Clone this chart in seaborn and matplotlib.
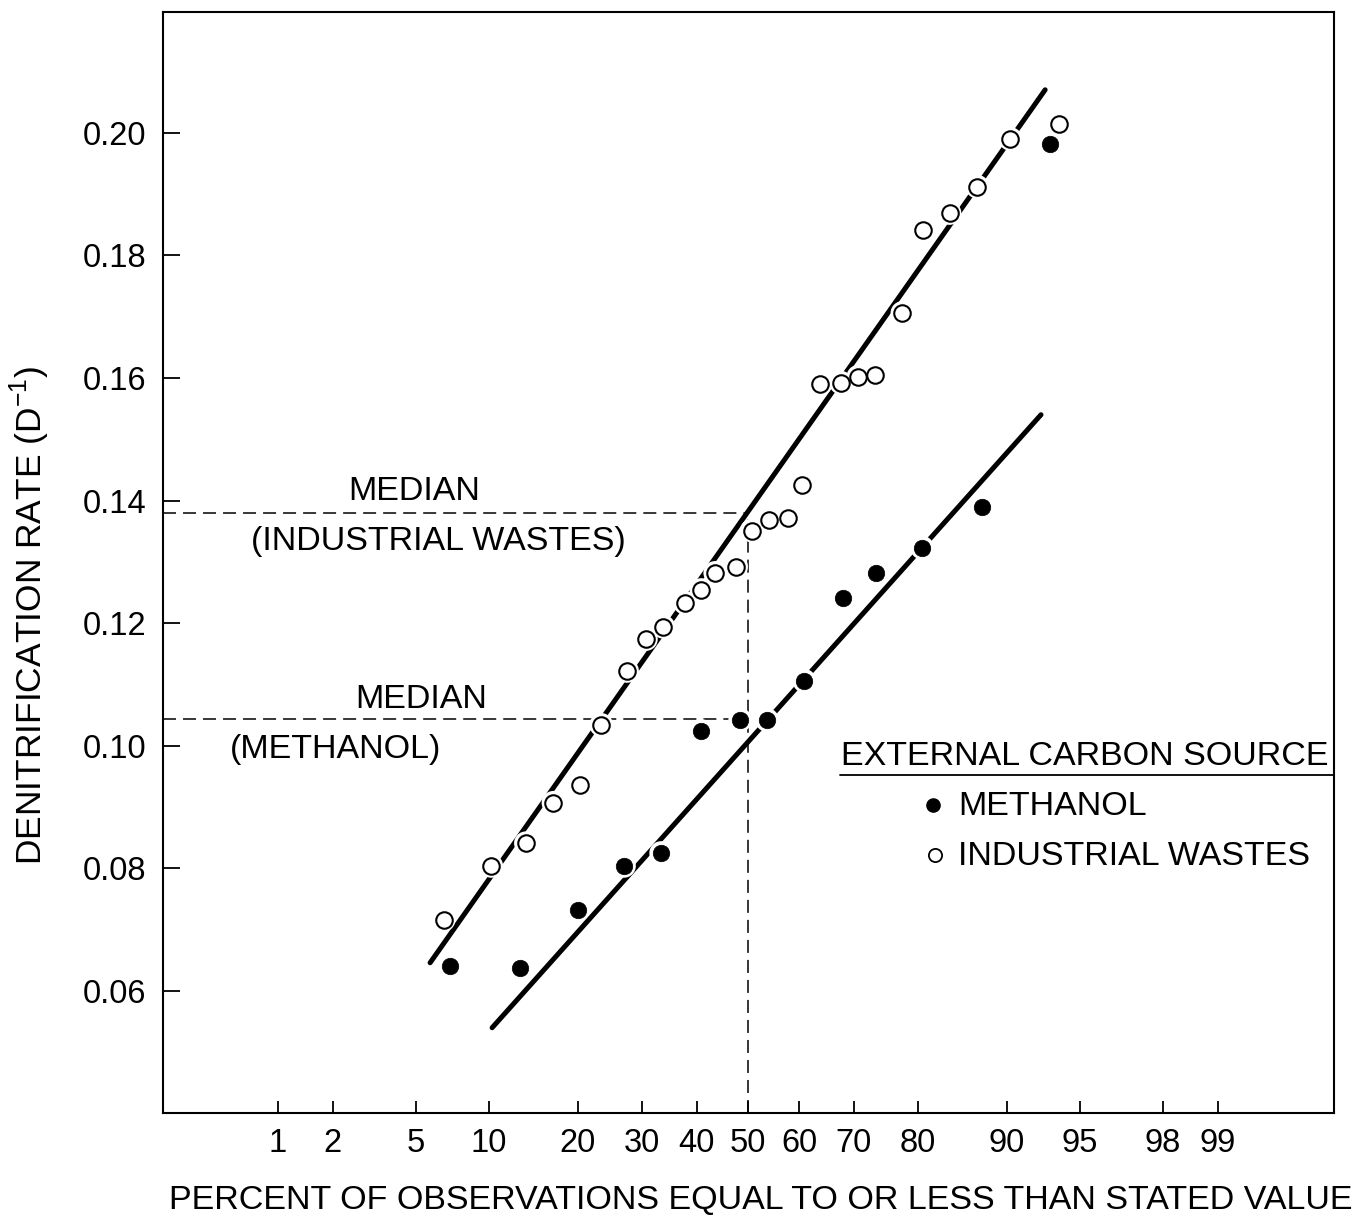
import numpy as np
import pandas as pd
import matplotlib
matplotlib.use("Agg")
import matplotlib.pyplot as plt
import seaborn as sns
from statistics import NormalDist

# ---------------- data ----------------
iw_pct = [6.6, 10.2, 13.6, 16.8, 20.3, 23.4, 27.5, 30.7, 33.8, 37.8, 40.9, 43.6, 47.7,
          50.8, 54.2, 57.9, 60.6, 64.0, 67.8, 70.8, 73.6, 77.8, 80.7, 84.1, 87.2, 90.3, 93.8]
iw_rate = [0.0716, 0.0804, 0.0841, 0.0907, 0.0936, 0.1034, 0.1122, 0.1174, 0.1194, 0.1233,
           0.1254, 0.1282, 0.1292, 0.1351, 0.1369, 0.1372, 0.1426, 0.1590, 0.1592, 0.1602,
           0.1605, 0.1706, 0.1842, 0.1869, 0.1912, 0.1990, 0.2015]
me_pct = [7.0, 13.0, 20.0, 27.0, 33.4, 40.9, 48.5, 53.8, 61.0, 68.1, 73.7, 80.6, 87.7, 93.3]
me_rate = [0.0641, 0.0638, 0.0732, 0.0804, 0.0825, 0.1024, 0.1042, 0.1042, 0.1106, 0.1241,
           0.1282, 0.1323, 0.1390, 0.1982]

iw_fit_pct = [5.79, 92.95]
iw_fit_rate = [0.0646, 0.2070]
me_fit_pct = [10.28, 92.67]
me_fit_rate = [0.0540, 0.1540]

iw_median = 0.138
me_median = 0.1044
median_pct = 50

x_ticks = [1, 2, 5, 10, 20, 30, 40, 50, 60, 70, 80, 90, 95, 98, 99]
x_ticklabels = ["1", "2", "5", "10", "20", "30", "40", "50", "60", "70", "80", "90", "95", "98", "99"]
y_ticks = [0.06, 0.08, 0.10, 0.12, 0.14, 0.16, 0.18, 0.20]
y_ticklabels = ["0.06", "0.08", "0.10", "0.12", "0.14", "0.16", "0.18", "0.20"]

# ---------------- probability scale ----------------
_nd = NormalDist()
_vinv = np.vectorize(_nd.inv_cdf, otypes=[float])
_vcdf = np.vectorize(_nd.cdf, otypes=[float])


def _fwd(p):
    p = np.asarray(p, dtype=float)
    if p.size == 0:
        return p
    q = np.clip(p / 100.0, 1e-9, 1 - 1e-9)
    return _vinv(q)


def _inv(z):
    z = np.asarray(z, dtype=float)
    if z.size == 0:
        return z
    return _vcdf(z) * 100.0


sns.set_theme(style="ticks")
plt.rcParams["font.family"] = ["Liberation Sans", "DejaVu Sans"]
plt.rcParams["mathtext.fontset"] = "custom"
plt.rcParams["mathtext.rm"] = "Liberation Sans"

fig = plt.figure(figsize=(13.64, 12.19), dpi=100)
ax = fig.add_axes([0.1195, 0.0870, 0.8585, 0.9032])
ax.set_xscale("function", functions=(_fwd, _inv))
xlo, xhi = float(_inv(-2.895)), float(_inv(2.902))
ylo, yhi = 0.0401, 0.2197
ax.set_xlim(xlo, xhi)
ax.set_ylim(ylo, yhi)

# median reference lines
dash = (8.5, 4.6)
ax.plot([xlo, median_pct], [iw_median, iw_median], color="black", lw=1.1, dashes=dash, zorder=1)
ax.plot([xlo, median_pct], [me_median, me_median], color="black", lw=1.1, dashes=dash, zorder=1)
ax.plot([median_pct, median_pct], [ylo, iw_median], color="black", lw=1.1, dashes=dash, zorder=1)

# fitted lines
sns.lineplot(x=iw_fit_pct, y=iw_fit_rate, ax=ax, color="black", lw=3.6, zorder=2,
             solid_capstyle="round")
sns.lineplot(x=me_fit_pct, y=me_fit_rate, ax=ax, color="black", lw=3.6, zorder=2,
             solid_capstyle="round")

# white halos to break lines near points
sns.scatterplot(x=iw_pct + me_pct, y=iw_rate + me_rate, ax=ax, s=290, color="white",
                edgecolor="none", zorder=3, legend=False)

# points
sns.scatterplot(x=me_pct, y=me_rate, ax=ax, s=141, color="black", edgecolor="black",
                linewidth=0.5, zorder=4, legend=False)
sns.scatterplot(x=iw_pct, y=iw_rate, ax=ax, s=141, facecolor="white", edgecolor="black",
                linewidth=1.5, zorder=4, legend=False)

# ticks
ax.set_xticks(x_ticks)
ax.set_xticklabels(x_ticklabels)
ax.set_yticks(y_ticks)
ax.set_yticklabels(y_ticklabels)
ax.minorticks_off()
ax.tick_params(axis="x", direction="in", length=9, width=1.3, pad=11, labelsize=23.5,
               colors="black")
ax.tick_params(axis="y", direction="in", length=12, width=1.3, pad=12, labelsize=23.5,
               colors="black")
for sp in ax.spines.values():
    sp.set_linewidth(1.5)
    sp.set_color("black")

# axis labels
ax.set_xlabel("PERCENT OF OBSERVATIONS EQUAL TO OR LESS THAN STATED VALUE",
              fontsize=24.5, color="black")
ax.xaxis.set_label_coords(0.5107, -0.0655)
ax.set_ylabel(r"DENITRIFICATION RATE (D$^{\mathregular{-1}}$)", fontsize=25.5, color="black")
ax.yaxis.set_label_coords(-0.0948, 0.452)

# median annotations
tk = dict(transform=ax.transAxes, ha="center", va="center", fontsize=24.5, color="black")
ax.text(0.2143, 0.5640, "MEDIAN", **tk)
ax.text(0.2348, 0.5186, "(INDUSTRIAL WASTES)", **tk)
ax.text(0.2203, 0.3751, "MEDIAN", **tk)
ax.text(0.1477, 0.3297, "(METHANOL)", **tk)

# legend (manual)
ax.text(0.7873, 0.3235, "EXTERNAL CARBON SOURCE", **tk)
ax.plot([0.578, 1.0], [0.3070, 0.3070], transform=ax.transAxes, color="black", lw=1.3,
        clip_on=False)
ax.plot([0.6575], [0.2797], "o", ms=9.5, color="black", transform=ax.transAxes)
ax.plot([0.6593], [0.2343], "o", ms=9.5, mfc="white", mec="black", mew=1.3,
        transform=ax.transAxes)
ax.text(0.6790, 0.2780, "METHANOL", transform=ax.transAxes, ha="left", va="center",
        fontsize=24.5, color="black")
ax.text(0.6790, 0.2326, "INDUSTRIAL WASTES", transform=ax.transAxes, ha="left",
        va="center", fontsize=24.5, color="black")

fig.savefig("out.png", dpi=100, facecolor="white")
